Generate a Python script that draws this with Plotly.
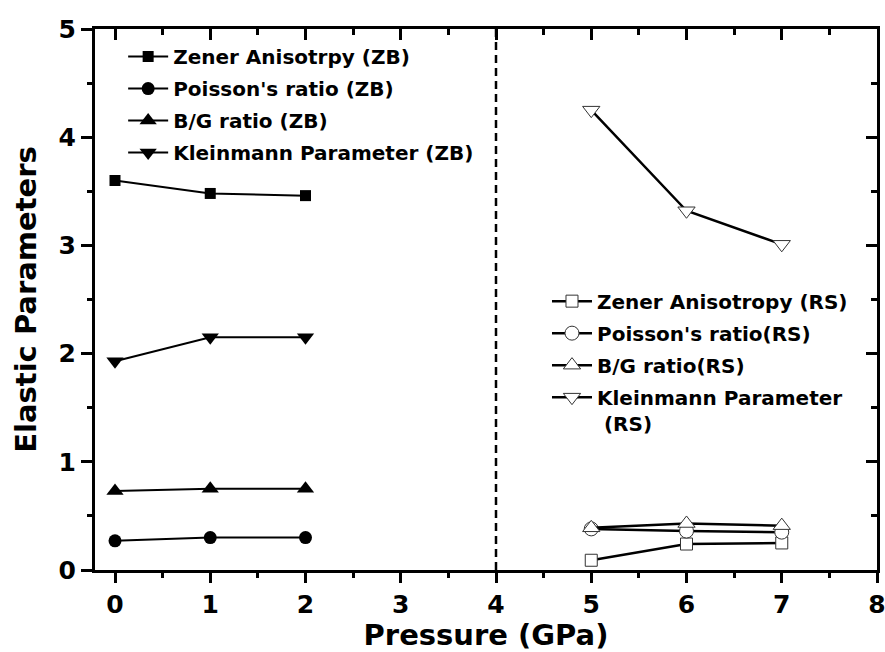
import plotly.graph_objects as go

# Data
p_zb = [0, 1, 2]
zener_zb = [3.60, 3.48, 3.46]
poisson_zb = [0.27, 0.30, 0.30]
bg_zb = [0.73, 0.75, 0.75]
klein_zb = [1.93, 2.15, 2.15]

p_rs = [5, 6, 7]
zener_rs = [0.09, 0.24, 0.25]
poisson_rs = [0.38, 0.36, 0.35]
bg_rs = [0.39, 0.43, 0.41]
klein_rs = [4.25, 3.32, 3.01]

boundary_x = 4
y_min, y_max = 0, 5
x_min, x_max = -0.21, 8

FONT = "DejaVu Sans, Liberation Sans, Arial, sans-serif"

fig = go.Figure()

zb_series = [
    ("Zener Anisotrpy (ZB)", zener_zb, "square", 11),
    ("Poisson's ratio (ZB)", poisson_zb, "circle", 13),
    ("B/G ratio (ZB)", bg_zb, "triangle-up", 15),
    ("Kleinmann Parameter (ZB)", klein_zb, "triangle-down", 15),
]
for i, (name, ys, sym, sz) in enumerate(zb_series):
    fig.add_trace(go.Scatter(
        x=p_zb, y=ys, name=name, mode="lines+markers",
        line=dict(color="black", width=2),
        marker=dict(symbol=sym, size=sz, color="black"),
        legend="legend", legendgroup="zb%d" % i,
    ))

rs_series = [
    ("Zener Anisotropy (RS)", zener_rs, "square", 12),
    ("Poisson's ratio(RS)", poisson_rs, "circle", 14),
    ("B/G ratio(RS)", bg_rs, "triangle-up", 15),
    ("Kleinmann Parameter<br> (RS)", klein_rs, "triangle-down", 15),
]
for i, (name, ys, sym, sz) in enumerate(rs_series):
    fig.add_trace(go.Scatter(
        x=p_rs, y=ys, name=name, mode="lines+markers",
        line=dict(color="black", width=2.5),
        marker=dict(symbol=sym, size=sz, color="white",
                    line=dict(color="#333333", width=1)),
        legend="legend2", legendgroup="rs%d" % i,
    ))

# empty helper trace so the mirrored top/right axes are drawn
fig.add_trace(go.Scatter(x=[None], y=[None], xaxis="x2", yaxis="y2",
                         showlegend=False, hoverinfo="skip"))

fig.add_shape(type="line", xref="x", yref="y",
              x0=boundary_x, x1=boundary_x, y0=y_min, y1=y_max,
              line=dict(color="black", width=2.5, dash="8px,5px"))

axis_font = dict(family=FONT, size=25, color="black", weight="bold")
title_font = dict(family=FONT, size=29, color="black", weight="bold")
legend_font = dict(family=FONT, size=20, color="black", weight="bold")

fig.update_layout(
    width=885, height=652,
    margin=dict(l=95, r=8, t=29, b=82, autoexpand=False),
    paper_bgcolor="white", plot_bgcolor="white",
    font=dict(family=FONT, color="black"),
    xaxis=dict(
        range=[x_min, x_max], tickmode="array", tickvals=list(range(0, 9)),
        ticks="outside", ticklen=10, tickwidth=2.5, tickcolor="black",
        minor=dict(tickmode="linear", tick0=0.5, dtick=1, ticks="outside",
                   ticklen=5, tickwidth=2.5, tickcolor="black"),
        showline=True, linewidth=3, linecolor="black",
        showgrid=False, zeroline=False, automargin=False,
        tickfont=axis_font, ticklabeloverflow="allow",
        title=dict(text="Pressure (GPa)", font=title_font, standoff=2),
    ),
    yaxis=dict(
        range=[y_min, y_max], tickmode="array", tickvals=list(range(0, 6)),
        ticks="outside", ticklen=11, tickwidth=2.5, tickcolor="black",
        minor=dict(tickmode="linear", tick0=0.5, dtick=1, ticks="outside",
                   ticklen=5, tickwidth=2.5, tickcolor="black"),
        showline=True, linewidth=3, linecolor="black",
        showgrid=False, zeroline=False, automargin=False,
        tickfont=axis_font, ticklabeloverflow="allow",
        title=dict(text="Elastic Parameters", font=title_font, standoff=14),
    ),
    xaxis2=dict(
        overlaying="x", side="top", range=[x_min, x_max],
        tickmode="array", tickvals=list(range(0, 9)), showticklabels=False,
        ticks="inside", ticklen=11, tickwidth=2.5, tickcolor="black",
        minor=dict(tickmode="linear", tick0=0.5, dtick=1, ticks="inside",
                   ticklen=6, tickwidth=2.5, tickcolor="black"),
        showline=True, linewidth=3, linecolor="black",
        showgrid=False, zeroline=False, automargin=False,
    ),
    yaxis2=dict(
        overlaying="y", side="right", range=[y_min, y_max],
        tickmode="array", tickvals=list(range(0, 6)), showticklabels=False,
        ticks="inside", ticklen=11, tickwidth=2.5, tickcolor="black",
        minor=dict(tickmode="linear", tick0=0.5, dtick=1, ticks="inside",
                   ticklen=6, tickwidth=2.5, tickcolor="black"),
        showline=True, linewidth=3, linecolor="black",
        showgrid=False, zeroline=False, automargin=False,
    ),
    legend=dict(
        x=0.036, y=0.985, xanchor="left", yanchor="top",
        bgcolor="rgba(0,0,0,0)", borderwidth=0,
        font=legend_font,
        traceorder="grouped", tracegroupgap=3, itemwidth=40,
    ),
    legend2=dict(
        x=0.578, y=0.533, xanchor="left", yanchor="top",
        bgcolor="rgba(0,0,0,0)", borderwidth=0,
        font=legend_font, valign="top",
        traceorder="grouped", tracegroupgap=3, itemwidth=40,
    ),
    showlegend=True,
)

fig.write_html("out.html")
